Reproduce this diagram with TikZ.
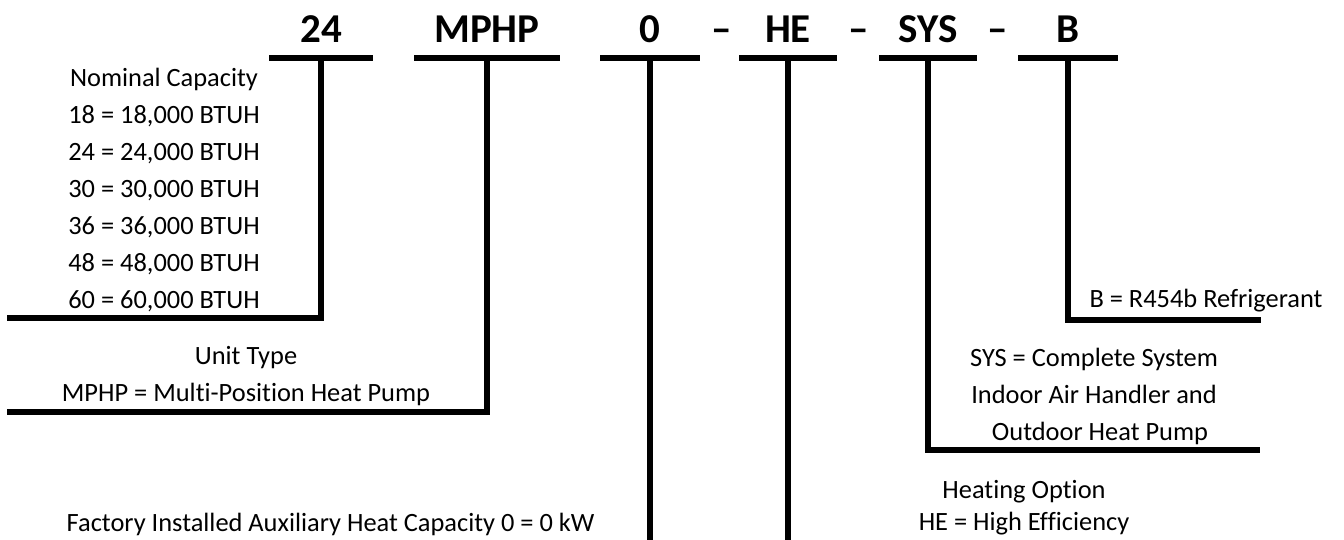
\documentclass[tikz,border=0pt]{standalone}
\usepackage{fontspec}
\setmainfont{Carlito}[Ligatures=NoCommon]
\usepackage{tikz}

\begin{document}
\begin{tikzpicture}[x=0.75pt, y=-0.75pt,
    code/.style={anchor=base, font=\fontsize{30.75}{36}\selectfont\bfseries},
    txt/.style={anchor=base, font=\fontsize{19.8}{24}\selectfont},
    bar/.style={line width=4.5pt}]
	  \useasboundingbox (0, 0) rectangle (1344, 539);
	  % model number and its underlines
	  \foreach \n / \x / \w / \txt in {a/321/52/24, b/487/73/MPHP, c/650/50/0, d/788/49/HE, e/928/49/SYS, f/1068/50/B}
	  {
		\draw(\x, 42) node[code](p\n) {\txt};
		\coordinate (t\n) at (\x, 58);
		\draw[bar](\x-\w, 58) -- (\x+\w, 58);
	  }
	  \foreach \x in {722, 859, 998}
		\draw(\x, 42) node[code](s\x) {–};
	  % nominal capacity
	  \draw(164, 86) node[txt](cap) {Nominal Capacity};
	  \foreach \i / \v in {1/18, 2/24, 3/30, 4/36, 5/48, 6/60}
		\draw(164, 86+37*\i) node[txt](cap\i) {\v{} = \v,000 BTUH};
	  \coordinate (ka) at (321, 318);
	  \coordinate (ea) at (7, 318);
	  \draw[bar](ta) -- (ka) -- (ea);
	  % unit type
	  \draw(246, 364) node[txt](unit) {Unit Type};
	  \draw(246, 401) node[txt](unit1) {MPHP = Multi-Position Heat Pump};
	  \coordinate (kb) at (487, 412);
	  \coordinate (eb) at (7, 412);
	  \draw[bar](tb) -- (kb) -- (eb);
	  % auxiliary heat and heating option
	  \draw(62, 531) node[txt, anchor=base west](aux) {Factory Installed Auxiliary Heat Capacity 0 = 0 kW};
	  \coordinate (ec) at (650, 545);
	  \draw[bar](tc) -- (ec);
	  \draw(1024, 498) node[txt](heat) {Heating Option};
	  \draw(1024, 530) node[txt](heat1) {HE = High Efficiency};
	  \coordinate (ed) at (788, 545);
	  \draw[bar](td) -- (ed);
	  % system
	  \draw(1094, 366) node[txt](sys) {SYS = Complete System};
	  \draw(1094, 403) node[txt](sys1) {Indoor Air Handler and};
	  \draw(1100, 440) node[txt](sys2) {Outdoor Heat Pump};
	  \coordinate (ke) at (928, 450);
	  \coordinate (ee) at (1260, 450);
	  \draw[bar](te) -- (ke) -- (ee);
	  % refrigerant
	  \draw(1206, 307) node[txt](ref) {B = R454b Refrigerant};
	  \coordinate (kf) at (1068, 320);
	  \coordinate (ef) at (1261, 320);
	  \draw[bar](tf) -- (kf) -- (ef);
	\end{tikzpicture}
\end{document}
